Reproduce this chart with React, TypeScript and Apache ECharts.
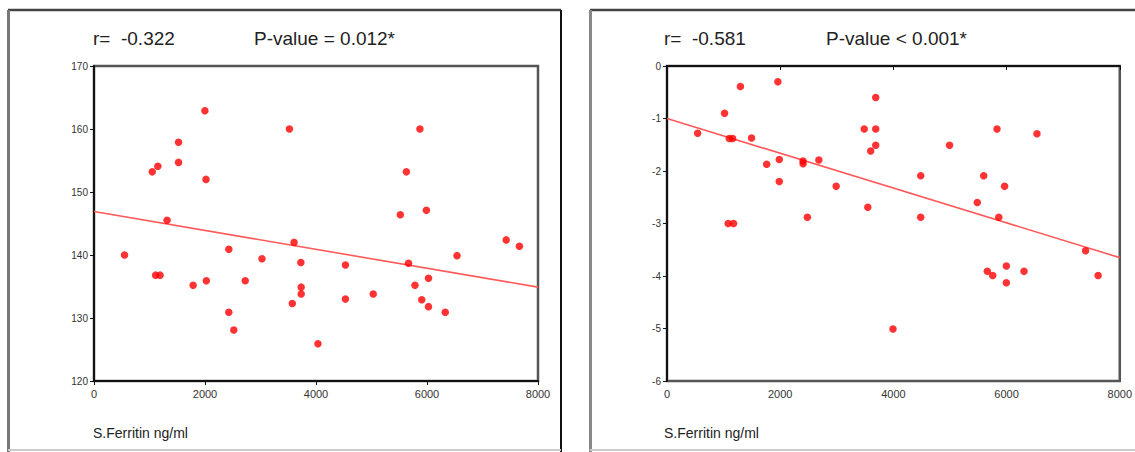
import React, { useEffect, useRef } from "react";
import * as echarts from "echarts";

const leftFerritin = [550, 1050, 1150, 1110, 1190, 1317, 1523, 1523, 1786, 1998, 2018, 2024, 2429, 2429, 2519, 2725, 3026, 3521, 3605, 3573, 3727, 3733, 3733, 4035, 4530, 4530, 5031, 5519, 5628, 5667, 5872, 5783, 5905, 5989, 6027, 6027, 6329, 6541, 7427, 7665];
const leftValues = [140, 153.2, 154.1, 136.8, 136.8, 145.5, 157.9, 154.7, 135.2, 162.9, 152, 135.9, 140.9, 130.9, 128.1, 135.9, 139.4, 160, 142, 132.3, 138.8, 134.9, 133.8, 125.9, 138.4, 133, 133.8, 146.4, 153.2, 138.7, 160, 135.2, 132.9, 147.1, 136.3, 131.8, 130.9, 139.9, 142.4, 141.4];
const leftFit = [[0, 146.9], [8000, 134.9]];

const rightFerritin = [541, 1017, 1100, 1160, 1297, 1081, 1176, 1494, 1761, 1959, 1984, 1984, 2404, 2404, 2683, 2480, 2989, 3485, 3548, 3599, 3688, 3688, 3688, 3993, 4483, 4483, 4992, 5482, 5596, 5660, 5755, 5831, 5863, 5965, 5996, 5996, 6308, 6537, 7396, 7618];
const rightValues = [-1.28, -0.9, -1.38, -1.38, -0.39, -3.0, -3.0, -1.37, -1.87, -0.3, -1.78, -2.2, -1.81, -1.86, -1.79, -2.88, -2.29, -1.2, -2.69, -1.62, -1.2, -0.6, -1.51, -5.01, -2.09, -2.88, -1.51, -2.6, -2.09, -3.91, -3.99, -1.2, -2.88, -2.29, -3.81, -4.13, -3.91, -1.29, -3.52, -3.99];
const rightFit = [[0, -1.0], [8000, -3.65]];

const titles = ["r=  -0.322", "P-value = 0.012*", "r=  -0.581", "P-value < 0.001*"];
const xAxisName = "S.Ferritin ng/ml";

const FONT = "'Liberation Sans', Arial, sans-serif";

export default function App() {
  const ref = useRef<HTMLDivElement>(null);
  useEffect(() => {
    if (!ref.current) return;
    const chart = echarts.init(ref.current, null, { renderer: "svg" });
    const axisLabel = { color: "#333", fontSize: 10, fontFamily: FONT, margin: 6, formatter: (v: number) => String(v) };
    const mkX = (gi: number) => ({
      type: "value",
      gridIndex: gi,
      min: 0,
      max: 8000,
      interval: 2000,
      axisLine: { show: true, lineStyle: { color: "#111", width: 2 } },
      axisTick: { show: true, length: 4, lineStyle: { color: "#111" } },
      axisLabel: { ...axisLabel, fontSize: 11, margin: 7 },
      splitLine: { show: false },
    });
    const mkY = (gi: number, min: number, max: number, interval: number) => ({
      type: "value",
      gridIndex: gi,
      min,
      max,
      interval,
      axisLine: { show: true, onZero: false, lineStyle: { color: "#111", width: 2 } },
      axisTick: { show: true, length: 4, lineStyle: { color: "#111" } },
      axisLabel,
      splitLine: { show: false },
    });
    const scatter = (gi: number, xs: number[], ys: number[]) => ({
      type: "scatter",
      xAxisIndex: gi,
      yAxisIndex: gi,
      data: xs.map((x, i) => [x, ys[i]]),
      symbol: "circle",
      symbolSize: 7.5,
      itemStyle: { color: "#ff0000" },
    });
    const fit = (gi: number, d: number[][]) => ({
      type: "line",
      xAxisIndex: gi,
      yAxisIndex: gi,
      data: d,
      showSymbol: false,
      symbol: "none",
      lineStyle: { color: "#ff5a5a", width: 1.6 },
      z: 1,
    });
    const text = (x: number, y: number, t: string, size: number) => ({
      type: "text",
      x,
      y,
      style: { text: t, fill: "#222", font: `${size}px ${FONT}`, textVerticalAlign: "middle" },
    });
    const line = (x1: number, y1: number, x2: number, y2: number, color: string, w: number) => ({
      type: "line",
      shape: { x1, y1, x2, y2 },
      style: { stroke: color, lineWidth: w },
    });
    chart.setOption({
      animation: false,
      backgroundColor: "#ffffff",
      grid: [
        { left: 94, top: 66, width: 444, height: 315, show: true, borderColor: "#555", borderWidth: 2.5 },
        { left: 667, top: 66, width: 453, height: 315, show: true, borderColor: "#555", borderWidth: 2.5 },
      ],
      xAxis: [mkX(0), mkX(1)],
      yAxis: [mkY(0, 120, 170, 10), mkY(1, -6, 0, 1)],
      series: [
        fit(0, leftFit),
        scatter(0, leftFerritin, leftValues),
        fit(1, rightFit),
        scatter(1, rightFerritin, rightValues),
      ],
      graphic: [
        line(8, 10, 561, 10, "#444", 2.5),
        line(8.5, 10, 8.5, 452, "#777", 3),
        line(561, 10, 561, 452, "#111", 2),
        line(8, 450, 561, 450, "#ccc", 2),
        line(590, 10, 1135, 10, "#444", 2.5),
        line(590.5, 10, 590.5, 452, "#888", 3),
        line(590, 450, 1135, 450, "#ccc", 2),
        text(93, 38, titles[0], 19),
        text(254, 38, titles[1], 19),
        text(664, 38, titles[2], 19),
        text(826, 38, titles[3], 19),
        text(93, 433, xAxisName, 14),
        text(664, 433, xAxisName, 14),
      ],
    });
    return () => chart.dispose();
  }, []);
  return (
    <div
      ref={ref}
      style={{ position: "fixed", left: 0, top: 0, width: 1135, height: 452, background: "#fff" }}
    />
  );
}
